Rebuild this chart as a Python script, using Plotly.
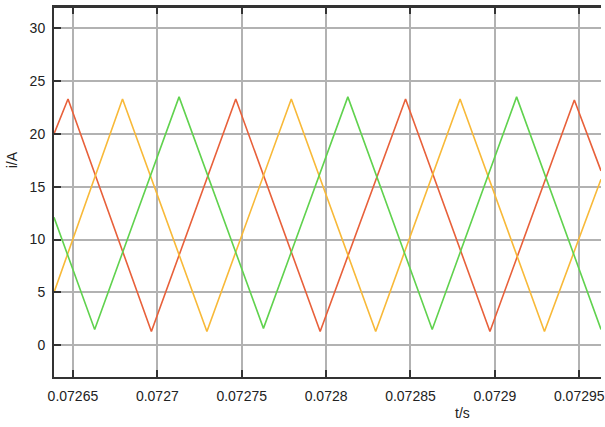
import plotly.graph_objects as go

# Vertex times (s) and currents (A)
red_t = [0.0726388, 0.0726471, 0.0726965, 0.0727465, 0.0727965, 0.0728471, 0.0728971, 0.0729471, 0.0729629]
red_i = [20.0, 23.3, 1.3, 23.3, 1.3, 23.3, 1.3, 23.2, 16.5]

orange_t = [0.0726388, 0.0726794, 0.0727294, 0.0727794, 0.0728294, 0.0728794, 0.0729294, 0.0729629]
orange_i = [5.0, 23.3, 1.3, 23.3, 1.3, 23.3, 1.3, 15.7]

green_t = [0.0726388, 0.0726629, 0.0727129, 0.0727629, 0.0728129, 0.0728629, 0.0729129, 0.0729629]
green_i = [12.1, 1.5, 23.5, 1.6, 23.5, 1.5, 23.5, 1.5]

x_ticks = [0.07265, 0.0727, 0.07275, 0.0728, 0.07285, 0.0729, 0.07295]
x_labels = ["0.07265", "0.0727", "0.07275", "0.0728", "0.07285", "0.0729", "0.07295"]
y_ticks = [0, 5, 10, 15, 20, 25, 30]

fig = go.Figure()
for t, i, c in [(red_t, red_i, "#E8603A"), (orange_t, orange_i, "#F8B938"), (green_t, green_i, "#60D24E")]:
    fig.add_trace(go.Scatter(x=t, y=i, mode="lines", line=dict(color=c, width=1.6), showlegend=False))

font = dict(family="Liberation Sans, Arial, sans-serif", size=14, color="#222")
fig.update_layout(
    width=605, height=427,
    margin=dict(l=54, r=0, t=7, b=50),
    plot_bgcolor="white", paper_bgcolor="white",
    font=font,
    xaxis=dict(range=[0.0726388, 0.0729629], tickvals=x_ticks, ticktext=x_labels,
               showgrid=True, gridcolor="#b2b2b2", gridwidth=1.6,
               showline=True, linecolor="#333", linewidth=2, mirror="allticks",
               ticks="inside", ticklen=7, tickwidth=2, tickcolor="#333",
               ticklabelstandoff=5, ticklabeloverflow="allow", zeroline=False),
    yaxis=dict(range=[-3, 32], tickvals=y_ticks,
               showgrid=True, gridcolor="#b2b2b2", gridwidth=1.6,
               showline=True, linecolor="#333", linewidth=2,
               ticks="inside", ticklen=7, tickwidth=2, tickcolor="#333",
               ticklabelstandoff=4, zeroline=False),
    shapes=[dict(type="line", xref="paper", yref="paper", x0=0, x1=1, y0=1, y1=1,
                 line=dict(color="#333", width=2))],
    annotations=[
        dict(text="t/s", showarrow=False, font=font),
        dict(text="i/A", showarrow=False, textangle=-90, font=font),
    ],
)
# convert annotation pixel positions to paper coords
pw, ph = 605 - 54, 427 - 57
fig.layout.annotations[0].update(xref="paper", yref="paper", x=(465 - 54) / pw, y=(427 - 50 - 413) / ph, xanchor="center", yanchor="middle")
fig.layout.annotations[1].update(xref="paper", yref="paper", x=(12 - 54) / pw, y=(427 - 50 - 160) / ph, xanchor="center", yanchor="middle")

fig.write_html("out.html")
